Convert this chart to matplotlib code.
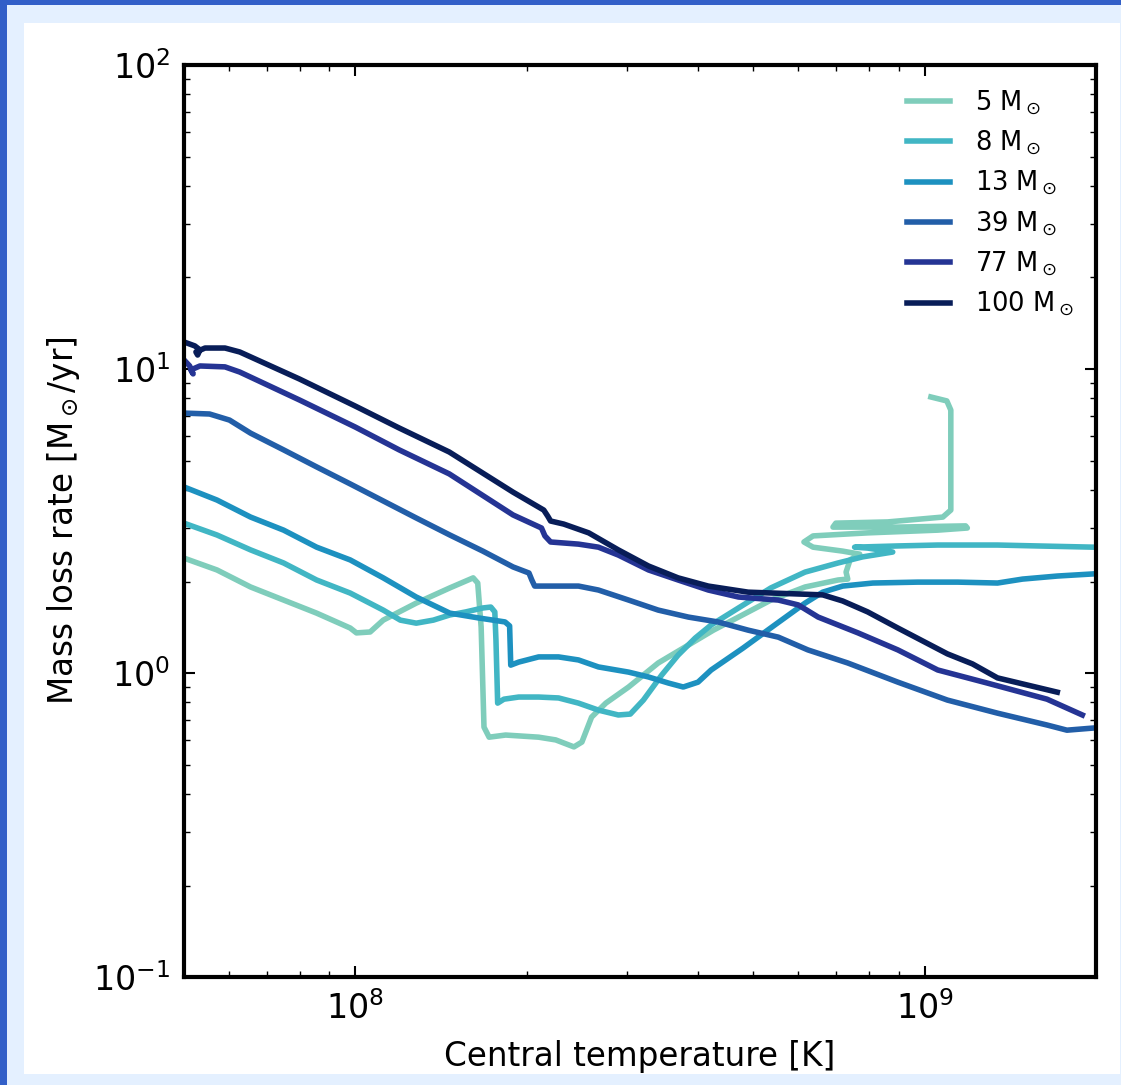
import matplotlib.pyplot as plt
from matplotlib.patches import Rectangle
import numpy as np

plt.rcParams['axes.unicode_minus'] = False

# MESA-style histories: log10 central temperature [K] and log10 |Mdot| [Msun/yr]
masses = [5, 8, 13, 39, 77, 100]
colors = ['#7fcdbb', '#41b6c4', '#1d91c0', '#225ea8', '#253494', '#081d58']

log_Tc_5 = [7.699, 7.757, 7.816, 7.874, 7.932, 7.991, 8.002, 8.026, 8.049, 8.107,
            8.166, 8.207, 8.215, 8.221, 8.226, 8.235, 8.264, 8.322, 8.352, 8.384,
            8.398, 8.415, 8.440, 8.480, 8.532, 8.585, 8.629, 8.673, 8.730, 8.790,
            8.848, 8.865, 8.862, 8.869, 8.886, 8.856, 8.804, 8.788, 8.804, 8.900,
            9.023, 9.075, 9.072, 8.953, 8.839, 8.844, 8.935, 9.032, 9.046, 9.046,
            9.046, 9.039, 9.011]
log_mdot_5 = [0.378, 0.339, 0.283, 0.240, 0.197, 0.148, 0.132, 0.135, 0.174, 0.230,
              0.280, 0.313, 0.296, 0.151, -0.178, -0.211, -0.204, -0.211, -0.220, -0.243,
              -0.227, -0.145, -0.099, -0.046, 0.033, 0.092, 0.141, 0.184, 0.240, 0.283,
              0.306, 0.309, 0.332, 0.372, 0.391, 0.401, 0.414, 0.431, 0.451, 0.461,
              0.470, 0.477, 0.484, 0.480, 0.480, 0.493, 0.497, 0.513, 0.536, 0.668,
              0.865, 0.895, 0.908]

log_Tc_8 = [7.699, 7.757, 7.816, 7.874, 7.932, 7.991, 8.049, 8.079, 8.107, 8.137,
            8.166, 8.194, 8.224, 8.238, 8.245, 8.247, 8.250, 8.261, 8.287, 8.322,
            8.357, 8.392, 8.427, 8.462, 8.483, 8.506, 8.538, 8.567, 8.597, 8.625,
            8.673, 8.730, 8.790, 8.848, 8.891, 8.944, 8.900, 8.877, 8.953, 9.023,
            9.128, 9.198, 9.296]
log_mdot_8 = [0.493, 0.454, 0.405, 0.362, 0.306, 0.263, 0.207, 0.174, 0.164, 0.174,
              0.191, 0.201, 0.214, 0.217, 0.201, 0.109, -0.099, -0.086, -0.079, -0.079,
              -0.082, -0.099, -0.122, -0.138, -0.135, -0.089, -0.007, 0.059, 0.115, 0.158,
              0.214, 0.280, 0.332, 0.362, 0.382, 0.398, 0.411, 0.414, 0.418, 0.421,
              0.421, 0.418, 0.414]

log_Tc_13 = [7.699, 7.757, 7.816, 7.874, 7.932, 7.991, 8.049, 8.107, 8.166, 8.217,
             8.263, 8.271, 8.273, 8.287, 8.322, 8.357, 8.392, 8.427, 8.480, 8.515,
             8.550, 8.576, 8.602, 8.625, 8.681, 8.739, 8.790, 8.821, 8.856, 8.909,
             8.988, 9.058, 9.128, 9.172, 9.233, 9.296]
log_mdot_13 = [0.612, 0.569, 0.513, 0.470, 0.414, 0.372, 0.313, 0.250, 0.197, 0.181,
               0.168, 0.155, 0.026, 0.036, 0.053, 0.053, 0.043, 0.020, 0.003, -0.013,
               -0.033, -0.046, -0.030, 0.010, 0.082, 0.161, 0.230, 0.266, 0.286, 0.296,
               0.299, 0.299, 0.296, 0.309, 0.319, 0.326]

log_Tc_39 = [7.699, 7.744, 7.779, 7.816, 7.874, 7.932, 7.991, 8.049, 8.107, 8.166,
             8.224, 8.277, 8.305, 8.310, 8.315, 8.392, 8.427, 8.480, 8.532, 8.585,
             8.637, 8.690, 8.743, 8.795, 8.865, 8.953, 9.040, 9.128, 9.215, 9.250,
             9.296]
log_mdot_39 = [0.855, 0.852, 0.832, 0.789, 0.734, 0.678, 0.622, 0.566, 0.510, 0.454,
               0.401, 0.349, 0.329, 0.306, 0.286, 0.286, 0.273, 0.240, 0.207, 0.184,
               0.168, 0.141, 0.118, 0.076, 0.033, -0.030, -0.089, -0.132, -0.171, -0.188,
               -0.181]

log_Tc_77 = [7.699, 7.709, 7.715, 7.711, 7.727, 7.771, 7.797, 7.902, 8.000, 8.077,
             8.165, 8.277, 8.327, 8.333, 8.343, 8.392, 8.427, 8.462, 8.515, 8.567,
             8.620, 8.673, 8.743, 8.778, 8.813, 8.883, 8.953, 9.023, 9.110, 9.215,
             9.277]
log_mdot_77 = [1.030, 1.010, 0.984, 0.997, 1.010, 1.007, 0.990, 0.898, 0.809, 0.734,
               0.655, 0.520, 0.477, 0.451, 0.431, 0.424, 0.414, 0.388, 0.339, 0.306,
               0.273, 0.250, 0.240, 0.224, 0.184, 0.132, 0.076, 0.010, -0.033, -0.086,
               -0.138]

log_Tc_100 = [7.699, 7.718, 7.727, 7.723, 7.720, 7.736, 7.771, 7.797, 7.902, 8.000,
              8.077, 8.165, 8.277, 8.331, 8.338, 8.343, 8.366, 8.410, 8.462, 8.515,
              8.567, 8.620, 8.690, 8.778, 8.821, 8.856, 8.900, 8.953, 9.040, 9.084,
              9.128, 9.233]
log_mdot_100 = [1.089, 1.076, 1.063, 1.046, 1.056, 1.069, 1.069, 1.056, 0.967, 0.878,
                0.806, 0.727, 0.595, 0.536, 0.516, 0.500, 0.490, 0.461, 0.405, 0.352,
                0.313, 0.286, 0.266, 0.260, 0.257, 0.237, 0.201, 0.148, 0.063, 0.030,
                -0.016, -0.063]

tracks = [(log_Tc_5, log_mdot_5), (log_Tc_8, log_mdot_8), (log_Tc_13, log_mdot_13),
          (log_Tc_39, log_mdot_39), (log_Tc_77, log_mdot_77), (log_Tc_100, log_mdot_100)]

fig = plt.figure(figsize=(11.21, 10.85), dpi=100, facecolor='#e4f0ff')
# page frame
fig.add_artist(Rectangle((0.0214, 0.0101), 0.9777, 0.9687, transform=fig.transFigure,
                         facecolor='white', edgecolor='none', zorder=-10))
fig.add_artist(Rectangle((0, 0.9954), 1, 0.0046, transform=fig.transFigure,
                         facecolor='#325fc8', edgecolor='none', zorder=-9))
fig.add_artist(Rectangle((0, 0), 0.0062, 1, transform=fig.transFigure,
                         facecolor='#325fc8', edgecolor='none', zorder=-9))

ax = fig.add_axes([0.1641, 0.0995, 0.8136, 0.8406])
for m, c, (lt, lm) in zip(masses, colors, tracks):
    ax.plot(10**np.array(lt), 10**np.array(lm), color=c, lw=4,
            solid_joinstyle='round', label=r'%d M$_\odot$' % m)

ax.set_xscale('log')
ax.set_yscale('log')
ax.set_xlim(5e7, 2e9)
ax.set_ylim(0.1, 100)

ax.tick_params(which='both', direction='in', top=True, right=True, labelsize=24, pad=10)
ax.tick_params(which='major', length=8, width=1.5)
ax.tick_params(which='minor', length=4.5, width=1)
for s in ax.spines.values():
    s.set_linewidth(3)

ax.set_xlabel('Central temperature [K]', fontsize=23.5, labelpad=10)
ax.set_ylabel(r'Mass loss rate [M$_\odot$/yr]', fontsize=23.5, labelpad=8)

ax.legend(loc='upper left', bbox_to_anchor=(0.793, 0.975), frameon=False, fontsize=18.5,
          handlelength=1.65, handletextpad=1.0, labelspacing=0.45, borderpad=0,
          borderaxespad=0)

fig.savefig('out.png', dpi=100)
